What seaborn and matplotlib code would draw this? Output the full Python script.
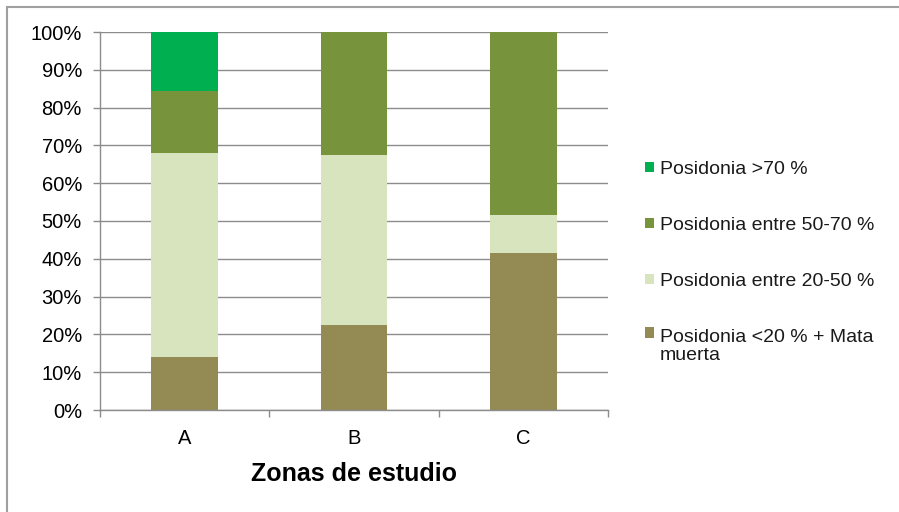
import numpy as np
import pandas as pd
import matplotlib
matplotlib.use("Agg")
import matplotlib.pyplot as plt
from matplotlib.patches import Patch, Rectangle
from matplotlib.legend_handler import HandlerPatch
from matplotlib.ticker import FixedLocator, PercentFormatter
import seaborn as sns

# ---- data (percent of each zone) ----
zones = ["A", "B", "C"]
series_names = [
    "Posidonia <20 % + Mata\nmuerta",
    "Posidonia entre 20-50 %",
    "Posidonia entre 50-70 %",
    "Posidonia >70 %",
]
low_mata = [14.1, 22.4, 41.5]       # Posidonia <20 % + Mata muerta
p20_50 = [54.0, 45.1, 10.0]         # Posidonia entre 20-50 %
p50_70 = [16.3, 32.5, 48.5]         # Posidonia entre 50-70 %
p70 = [15.6, 0.0, 0.0]              # Posidonia >70 %
colors = ["#948A54", "#D7E4BD", "#77933C", "#00B050"]

sns.set_theme(style="white")
plt.rcParams["font.family"] = ["Liberation Sans", "DejaVu Sans"]

series_vals = [low_mata, p20_50, p50_70, p70]
cum = np.cumsum(np.array(series_vals), axis=0)

fig = plt.figure(figsize=(8.99, 5.12), dpi=100)
ax = fig.add_axes([100 / 899, 102 / 512, 508 / 899, 378 / 512])

ax.set_axisbelow(True)
ax.yaxis.grid(True, color="#8C8C8C", linewidth=1.0)

# stacked bars drawn as overlapping cumulative bars (top segment first)
for i in range(len(series_vals) - 1, -1, -1):
    df = pd.DataFrame({"zona": zones, "valor": cum[i]})
    sns.barplot(data=df, x="zona", y="valor", color=colors[i], width=0.395,
                saturation=1, ax=ax, linewidth=0, edgecolor="none", zorder=2)

ax.set_xlim(-0.5, 2.5)
ax.set_ylim(0, 100)
ax.set_yticks(np.arange(0, 101, 10))
ax.yaxis.set_major_formatter(PercentFormatter(decimals=0))

for side in ["top", "right"]:
    ax.spines[side].set_visible(False)
for side in ["left", "bottom"]:
    ax.spines[side].set_color("#8C8C8C")
    ax.spines[side].set_linewidth(1.0)

ax.tick_params(axis="y", which="major", left=True, length=5, width=1.0,
               color="#8C8C8C", pad=8, labelsize=14.5, labelcolor="black")
ax.xaxis.set_minor_locator(FixedLocator([-0.5, 0.5, 1.5, 2.5]))
ax.tick_params(axis="x", which="minor", bottom=True, length=5, width=1.0,
               color="#8C8C8C")
ax.tick_params(axis="x", which="major", bottom=False, length=0, pad=14,
               labelsize=14.5, labelcolor="black")

ax.set_ylabel("")
ax.set_xlabel("Zonas de estudio", fontsize=18, fontweight="bold",
              color="black", labelpad=10)


def shifted_square(legend, orig_handle, xdescent, ydescent, width, height, fontsize):
    return Rectangle((-xdescent, -ydescent + 0.68 * fontsize), width, height)


handles = [Patch(facecolor=colors[i], edgecolor="none") for i in range(3, -1, -1)]
labels = [series_names[i] for i in range(3, -1, -1)]
leg = fig.legend(handles, labels, loc="upper left",
                 bbox_to_anchor=(645 / 899, 1 - 161 / 512),
                 frameon=False, fontsize=14, handlelength=0.45,
                 handleheight=0.45, handletextpad=0.3, labelspacing=2.0,
                 borderaxespad=0, borderpad=0,
                 handler_map={handles[3]: HandlerPatch(patch_func=shifted_square)})
for t in leg.get_texts():
    t.set_color("#1a1a1a")
    t.set_linespacing(1.1)

# chart-area border (extends past right/bottom edges, as in the reference)
fig.patches.append(Rectangle((7 / 899, -0.05), 1.1, 1 - 7 / 512 + 0.05,
                             transform=fig.transFigure, fill=False,
                             edgecolor="#A0A0A0", linewidth=1.5))

fig.savefig("out.png", dpi=100, facecolor="white")
